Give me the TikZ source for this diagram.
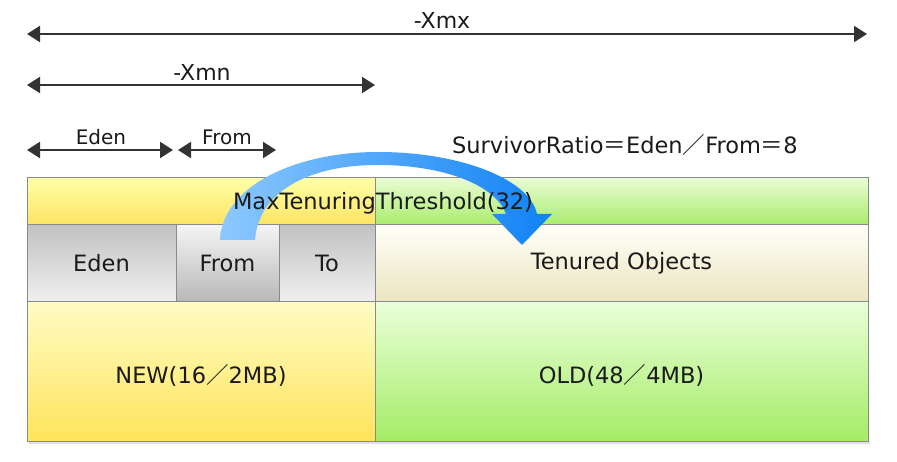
\documentclass[tikz,border=0pt]{standalone}
\usepackage{fontspec}
\setmainfont{DejaVu Sans}
\newfontfamily\cjk{Noto Sans CJK JP}
\usetikzlibrary{arrows.meta}
\definecolor{txt}{HTML}{1A1A1A}
\definecolor{dimc}{HTML}{333333}
\definecolor{edge}{HTML}{8A8A8A}
\tikzset{
  cell/.style={draw=edge, line width=1pt, inner sep=0pt, minimum width=#1},
  rowa/.style={minimum height=47pt},
  rowb/.style={minimum height=77pt},
  rowc/.style={minimum height=139pt},
  yel/.style={top color=yellow!35!white, bottom color={rgb,255:red,253;green,228;blue,98}},
  grn/.style={top color={rgb,255:red,234;green,252;blue,212}, bottom color={rgb,255:red,170;green,236;blue,108}},
  gryup/.style={top color={rgb,255:red,194;green,194;blue,194}, bottom color={rgb,255:red,240;green,240;blue,240}},
  grydn/.style={top color={rgb,255:red,244;green,244;blue,244}, bottom color={rgb,255:red,184;green,184;blue,184}},
  beige/.style={top color={rgb,255:red,255;green,255;blue,248}, bottom color={rgb,255:red,235;green,229;blue,190}},
  celltext/.style={text=txt, font=\fontsize{22.5}{26}\selectfont},
  dimtext/.style={text=txt, font=\fontsize{20}{23}\selectfont, inner sep=0pt},
  dimline/.style={draw=dimc, line width=2pt, {Triangle[length=13pt,width=16pt]}-{Triangle[length=13pt,width=16pt]}, shorten <=0pt, shorten >=0pt},
}
\begin{document}
\begin{tikzpicture}[x=1pt,y=-1pt]
\useasboundingbox (0,0) rectangle (897,462);
% soft shadow under the block
\fill[black!12] (29,441) rectangle (870,444);
% rows
\node[cell=348pt, rowa, yel] (topL) at (201,201.5) {};
\node[cell=493pt, rowa, grn] (topR) at (621.5,201.5) {};
\node[cell=149pt, rowb, gryup, celltext] (eden) at (101.5,263.5) {Eden};
\node[cell=103pt, rowb, grydn, celltext] (from) at (227.5,263.5) {From};
\node[cell=96pt, rowb, gryup, celltext] (to) at (327,263.5) {To};
\node[cell=493pt, rowb, beige, celltext] (ten) at (621.5,263.5) {Tenured Objects};
\node[cell=348pt, rowc, top color={rgb,255:red,255;green,252;blue,196}, bottom color={rgb,255:red,255;green,228;blue,92}] (new) at (201,371.5) {};
\node[cell=493pt, rowc, top color={rgb,255:red,234;green,255;blue,217}, bottom color={rgb,255:red,164;green,236;blue,102}] (old) at (621.5,371.5) {};
\node[celltext] (newt) at ([yshift=-4pt]new.center) {NEW(16{\cjk ／}2MB)};
\node[celltext] (oldt) at ([yshift=-4pt]old.center) {OLD(48{\cjk ／}4MB)};
% blue promotion arrow
\shade[left color={rgb,255:red,140;green,200;blue,255}, right color={rgb,255:red,16;green,130;blue,245}]
  (220,240) .. controls (222,188) and (292,152) .. (378,152)
  .. controls (462,152) and (530,180) .. (537,214)
  -- (552,214) -- (522,245) -- (492,214) -- (506,214)
  .. controls (496,186) and (446,165) .. (378,165)
  .. controls (302,165) and (258,196) .. (255,240) -- cycle;
\node[celltext, inner sep=0pt] (mtt) at (383,203) {MaxTenuringThreshold(32)};
% dimension lines
\coordinate (xmxL) at (27,34);
\coordinate (xmxR) at (867,34);
\coordinate (xmnL) at (27,85);
\coordinate (xmnR) at (375,85);
\coordinate (edL) at (27,150);
\coordinate (edR) at (173,150);
\coordinate (frL) at (178,150);
\coordinate (frR) at (276,150);
\draw[dimline] (xmxL) -- (xmxR);
\draw[dimline] (xmnL) -- (xmnR);
\draw[dimline] (edL) -- (edR);
\draw[dimline] (frL) -- (frR);
\node[dimtext, font=\fontsize{22}{24}\selectfont] (lxmx) at (442,20) {-Xmx};
\node[dimtext, font=\fontsize{22}{24}\selectfont] (lxmn) at (202,72) {-Xmn};
\node[dimtext] (led) at (101,137) {Eden};
\node[dimtext] (lfr) at (227,137) {From};
\node[celltext, inner sep=0pt] (sr) at (625,145) {SurvivorRatio{\cjk ＝}Eden{\cjk ／}From{\cjk ＝}8};
\end{tikzpicture}
\end{document}
